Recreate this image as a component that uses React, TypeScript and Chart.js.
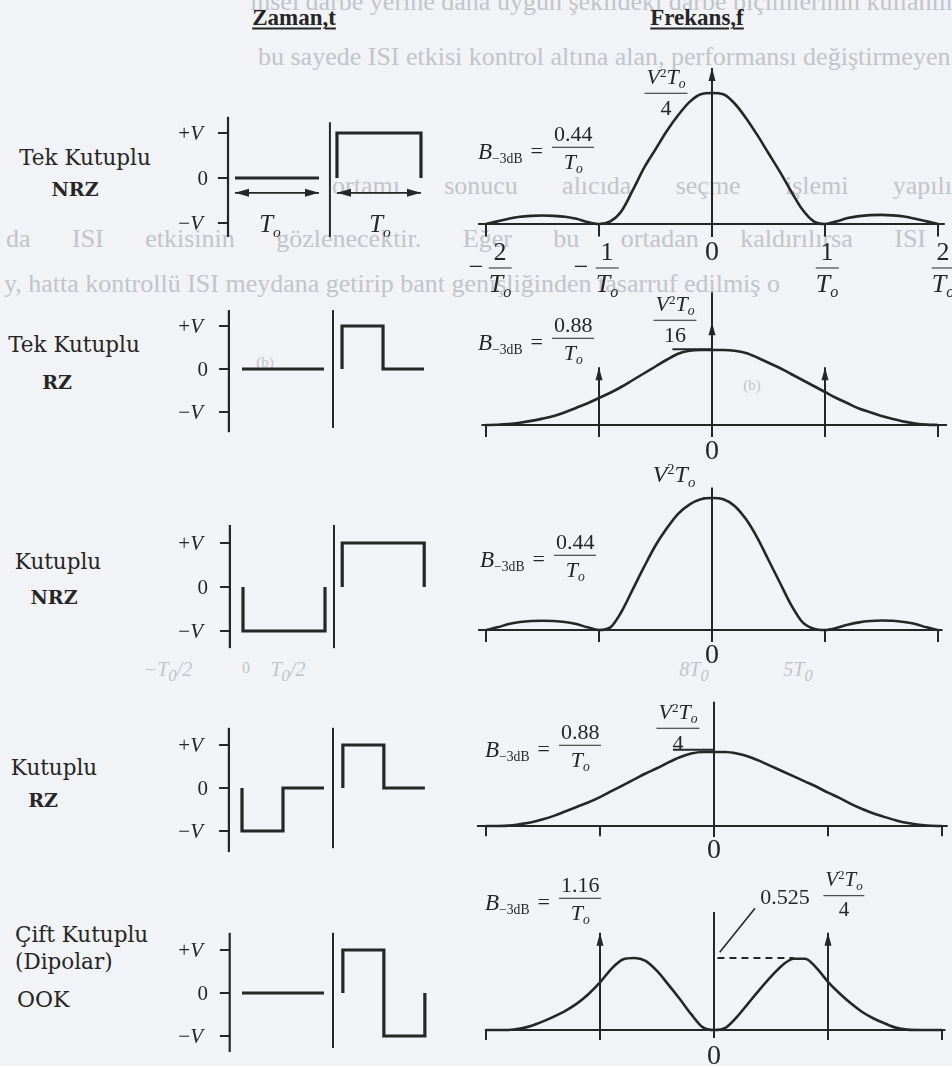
import React, { useEffect, useRef } from 'react';
import { Chart, registerables } from 'chart.js';

Chart.register(...registerables);

/* ---------- frequency grid, in units of 1/To ---------- */
const freqGrid = [
  -2.0, -1.9, -1.8, -1.7, -1.6, -1.5, -1.4, -1.3, -1.2, -1.1,
  -1.0, -0.9, -0.8, -0.7, -0.6, -0.5, -0.4, -0.3, -0.2, -0.1,
  0.0, 0.1, 0.2, 0.3, 0.4, 0.5, 0.6, 0.7, 0.8, 0.9,
  1.0, 1.1, 1.2, 1.3, 1.4, 1.5, 1.6, 1.7, 1.8, 1.9, 2.0,
];

/* ---------- power spectral densities, normalised to each main peak ---------- */
const psdUnipolarNrz = [
  0.0, 0.02, 0.04, 0.055, 0.062, 0.065, 0.062, 0.055, 0.04, 0.015,
  0.0, 0.02, 0.1, 0.26, 0.43, 0.57, 0.71, 0.83, 0.93, 0.99,
  1.0, 0.99, 0.92, 0.81, 0.68, 0.54, 0.4, 0.25, 0.11, 0.02,
  0.0, 0.02, 0.045, 0.06, 0.068, 0.07, 0.066, 0.057, 0.04, 0.02, 0.0,
];
const psdUnipolarRz = [
  0.0, 0.003, 0.012, 0.03, 0.055, 0.085, 0.12, 0.17, 0.23, 0.29,
  0.36, 0.43, 0.51, 0.6, 0.69, 0.78, 0.87, 0.95, 0.99, 1.0,
  1.0, 1.0, 0.99, 0.96, 0.9, 0.83, 0.76, 0.68, 0.6, 0.52,
  0.44, 0.36, 0.29, 0.22, 0.17, 0.12, 0.08, 0.045, 0.02, 0.005, 0.0,
];
const psdPolarNrz = [
  0.0, 0.02, 0.045, 0.06, 0.068, 0.07, 0.068, 0.06, 0.045, 0.02,
  0.0, 0.02, 0.14, 0.31, 0.48, 0.64, 0.77, 0.88, 0.95, 0.99,
  1.0, 0.99, 0.94, 0.84, 0.7, 0.53, 0.36, 0.19, 0.06, 0.01,
  0.0, 0.015, 0.04, 0.058, 0.068, 0.072, 0.07, 0.06, 0.045, 0.02, 0.0,
];
const psdPolarRz = [
  0.0, 0.0, 0.005, 0.025, 0.05, 0.09, 0.14, 0.2, 0.26, 0.32,
  0.39, 0.47, 0.55, 0.63, 0.71, 0.78, 0.86, 0.93, 0.98, 1.0,
  1.0, 1.0, 0.98, 0.94, 0.88, 0.81, 0.74, 0.67, 0.6, 0.53,
  0.45, 0.38, 0.3, 0.23, 0.17, 0.12, 0.075, 0.04, 0.015, 0.003, 0.0,
];
const psdDipolarOok = [
  0.0, 0.0, 0.0, 0.02, 0.06, 0.12, 0.19, 0.27, 0.37, 0.5,
  0.66, 0.85, 0.98, 1.0, 0.96, 0.82, 0.63, 0.43, 0.22, 0.04,
  0.0, 0.03, 0.18, 0.37, 0.56, 0.74, 0.9, 0.99, 0.99, 0.86,
  0.67, 0.51, 0.37, 0.25, 0.16, 0.09, 0.03, 0.005, 0.0, 0.0, 0.0,
];

/* spectral lines (impulses): frequency in 1/To, drawn height */
const linesUnipolarNrz = [{ f: 0, h: 1.19 }];
const linesUnipolarRz = [{ f: -1, h: 0.77 }, { f: 0, h: 1.37 }, { f: 1, h: 0.77 }];
const linesDipolarOok = [{ f: -1, h: 1.35 }, { f: 1, h: 1.35 }];

const freqTicks = [-2, -1, 1, 2];
const levelTicks = [1, 0, -1];
const levelLabels = ['+V', '0', '−V'];

/* ---------- one "0" bit and one "1" bit of each line code: [time / To, level / V] ---------- */
const unipolarNrzBits = [
  [[0, 0], [1, 0]],
  [[0, 0], [0, 1], [1, 1], [1, 0]],
];
const unipolarRzBits = [
  [[0, 0], [1, 0]],
  [[0, 0], [0, 1], [0.5, 1], [0.5, 0], [1, 0]],
];
const polarNrzBits = [
  [[0, 0], [0, -1], [1, -1], [1, 0]],
  [[0, 0], [0, 1], [1, 1], [1, 0]],
];
const polarRzBits = [
  [[0, 0], [0, -1], [0.5, -1], [0.5, 0], [1, 0]],
  [[0, 0], [0, 1], [0.5, 1], [0.5, 0], [1, 0]],
];
const dipolarOokBits = [
  [[0, 0], [1, 0]],
  [[0, 0], [0, 1], [0.5, 1], [0.5, -1], [1, -1], [1, 0]],
];

/* ---------- styling & layout ---------- */
const INK = '#262626';
const PAPER = '#f1f3f6';
const FAINT = '#c1c4c9';
const SERIF = '"Liberation Serif", "Times New Roman", serif';
const BOOK = '"DejaVu Serif", "Liberation Serif", serif';

// frame: pixel position of the data origin and pixels per unit
const timeFrames = [
  { x0: 235, y0: 178, px: 84, py: 45, axisAt: -0.083, sepAt: 1.13, bit1At: 1.214, axisSpan: [-1.31, 1.36], sepSpan: [-1.31, 1.24] },
  { x0: 242, y0: 369, px: 82, py: 43, axisAt: -0.16, sepAt: 1.11, bit1At: 1.22, axisSpan: [-1.47, 1.37], sepSpan: [-1.37, 1.37] },
  { x0: 243, y0: 587, px: 82, py: 44, axisAt: -0.16, sepAt: 1.11, bit1At: 1.21, axisSpan: [-1.39, 1.41], sepSpan: [-1.39, 1.41] },
  { x0: 242, y0: 788, px: 82, py: 43, axisAt: -0.16, sepAt: 1.11, bit1At: 1.23, axisSpan: [-1.49, 1.4], sepSpan: [-1.4, 1.4] },
  { x0: 242, y0: 993, px: 82, py: 43, axisAt: -0.15, sepAt: 1.11, bit1At: 1.23, axisSpan: [-1.37, 1.4], sepSpan: [-1.28, 1.4] },
];
const specFrames = [
  { x0: 712, y0: 224, px: 113, py: 131, top: 55, height: 195, base: [-2.07, 2.06], tick: 0.095, axisSpan: [-0.1, 1.19] },
  { x0: 712, y0: 425, px: 113, py: 75, top: 285, height: 160, base: [-2.04, 2.08], tick: 0.16, axisSpan: [-0.16, 1.77] },
  { x0: 712, y0: 630, px: 113, py: 132, top: 480, height: 170, base: [-2.07, 2.04], tick: 0.09, axisSpan: [-0.09, 1.08] },
  { x0: 714, y0: 826, px: 114, py: 74, top: 695, height: 150, base: [-2.08, 2.05], tick: 0.14, axisSpan: [-0.15, 1.68] },
  { x0: 714, y0: 1030, px: 114, py: 72, top: 900, height: 145, base: [-2.01, 2.03], tick: 0.14, axisSpan: [-0.11, 1.64] },
];

/* ---------- arrowheads at the ends of flagged datasets ---------- */
const arrowHeads = {
  id: 'arrowHeads',
  afterDatasetsDraw(chart: any) {
    const ctx = chart.ctx;
    chart.data.datasets.forEach((ds: any, i: number) => {
      if (!ds.arrowEnd && !ds.arrowStart) return;
      const pts = chart.getDatasetMeta(i).data;
      if (!pts || pts.length < 2) return;
      const len = ds.arrowLength ?? 13;
      const half = ds.arrowHalf ?? 4;
      const head = (tip: any, tail: any) => {
        const a = Math.atan2(tip.y - tail.y, tip.x - tail.x);
        ctx.save();
        ctx.translate(tip.x, tip.y);
        ctx.rotate(a);
        ctx.beginPath();
        ctx.moveTo(0, 0);
        ctx.lineTo(-len, -half);
        ctx.lineTo(-len, half);
        ctx.closePath();
        ctx.fillStyle = ds.borderColor;
        ctx.fill();
        ctx.restore();
      };
      if (ds.arrowEnd) head(pts[pts.length - 1], pts[pts.length - 2]);
      if (ds.arrowStart) head(pts[0], pts[1]);
    });
  },
};

type Pt = { x: number; y: number | null };

const stroke = (data: Pt[], width = 2, extra: any = {}) => ({
  data,
  borderColor: INK,
  backgroundColor: INK,
  borderWidth: width,
  pointRadius: 0,
  pointHoverRadius: 0,
  tension: 0,
  fill: false,
  clip: false,
  borderCapStyle: 'butt',
  borderJoinStyle: 'miter',
  ...extra,
});

const segments = (pairs: number[][][]): Pt[] =>
  pairs.flatMap(([a, b], i) => [
    ...(i ? [{ x: a[0], y: null }] : []),
    { x: a[0], y: a[1] },
    { x: b[0], y: b[1] },
  ]);

function timeDatasets(f: any, bits: number[][][], extra: any[] = []) {
  const [b0, b1] = bits;
  return [
    stroke([{ x: f.axisAt, y: f.axisSpan[0] }, { x: f.axisAt, y: f.axisSpan[1] }], 2.2),
    stroke(segments(levelTicks.map((v) => [[f.axisAt - 0.12, v], [f.axisAt, v]])), 2),
    stroke([{ x: f.sepAt, y: f.sepSpan[0] }, { x: f.sepAt, y: f.sepSpan[1] }], 2),
    stroke(b0.map(([t, v]) => ({ x: t, y: v })), 3.2),
    stroke(b1.map(([t, v]) => ({ x: f.bit1At + t, y: v })), 3.2),
    ...extra,
  ];
}

function spectrumDatasets(f: any, psd: number[], lines: { f: number; h: number }[] = [], extra: any[] = []) {
  return [
    stroke([{ x: f.base[0], y: 0 }, { x: f.base[1], y: 0 }], 2),
    stroke(segments(freqTicks.map((x) => [[x, 0], [x, -f.tick]])), 2),
    stroke([{ x: 0, y: f.axisSpan[0] }, { x: 0, y: f.axisSpan[1] }], 2),
    stroke(freqGrid.map((x, i) => ({ x, y: psd[i] })), 2.6, { cubicInterpolationMode: 'monotone' }),
    ...lines.map((l) =>
      stroke([{ x: l.f, y: 0 }, { x: l.f, y: l.h }], 2, { arrowEnd: true, arrowLength: 13, arrowHalf: 3.5 })
    ),
    ...extra,
  ];
}

const timeBox = (f: any) => ({ left: 200, top: f.y0 - 80, width: 245, height: 160 });
const specBox = (f: any) => ({ left: 462, top: f.top, width: 490, height: f.height });

const spanArrow = { arrowStart: true, arrowEnd: true, arrowLength: 14, arrowHalf: 4 };

const timeSets = [
  timeDatasets(timeFrames[0], unipolarNrzBits, [
    stroke([{ x: 0, y: -0.33 }, { x: 1, y: -0.33 }], 1.6, spanArrow),
    stroke([{ x: timeFrames[0].bit1At, y: -0.33 }, { x: timeFrames[0].bit1At + 1, y: -0.33 }], 1.6, spanArrow),
  ]),
  timeDatasets(timeFrames[1], unipolarRzBits),
  timeDatasets(timeFrames[2], polarNrzBits),
  timeDatasets(timeFrames[3], polarRzBits),
  timeDatasets(timeFrames[4], dipolarOokBits),
];

const specSets = [
  spectrumDatasets(specFrames[0], psdUnipolarNrz, linesUnipolarNrz),
  spectrumDatasets(specFrames[1], psdUnipolarRz, linesUnipolarRz, [
    stroke([{ x: -0.35, y: 1.01 }, { x: 0, y: 1.01 }], 2),
  ]),
  spectrumDatasets(specFrames[2], psdPolarNrz, [], [
    stroke([{ x: -0.08, y: 1.0 }, { x: 0.07, y: 1.0 }], 2),
  ]),
  spectrumDatasets(specFrames[3], psdPolarRz, [], [
    stroke([{ x: -0.36, y: 1.03 }, { x: 0, y: 1.03 }], 2),
  ]),
  spectrumDatasets(specFrames[4], psdDipolarOok, linesDipolarOok, [
    stroke([{ x: 0.03, y: 1.0 }, { x: 0.7, y: 1.0 }], 1.8, { borderDash: [7, 5] }),
    stroke([{ x: 0.05, y: 1.08 }, { x: 0.36, y: 1.69 }], 1.6),
  ]),
];

/* ---------- chart on a positioned canvas ---------- */
function Plot({ frame, box, datasets }: any) {
  const ref = useRef<HTMLCanvasElement | null>(null);
  useEffect(() => {
    const canvas = ref.current;
    if (!canvas) return;
    const chart = new Chart(canvas, {
      type: 'line',
      data: { datasets },
      options: {
        animation: false,
        responsive: false,
        maintainAspectRatio: false,
        events: [],
        layout: { padding: 0 },
        plugins: { legend: { display: false }, tooltip: { enabled: false }, title: { display: false } },
        scales: {
          x: {
            type: 'linear',
            display: false,
            bounds: 'data',
            min: (box.left - frame.x0) / frame.px,
            max: (box.left + box.width - frame.x0) / frame.px,
          },
          y: {
            type: 'linear',
            display: false,
            bounds: 'data',
            min: (frame.y0 - box.top - box.height) / frame.py,
            max: (frame.y0 - box.top) / frame.py,
          },
        },
      },
      plugins: [arrowHeads],
    } as any);
    return () => chart.destroy();
  }, [frame, box, datasets]);
  return (
    <canvas
      ref={ref}
      width={box.width}
      height={box.height}
      style={{ position: 'absolute', left: box.left, top: box.top, width: box.width, height: box.height }}
    />
  );
}

/* ---------- text helpers ---------- */
function Txt({ x, y, align = 'center', size = 20, family = SERIF, style = {}, children }: any) {
  const tx = align === 'center' ? '-50%' : align === 'right' ? '-100%' : '0';
  return (
    <div
      style={{
        position: 'absolute',
        left: x,
        top: y,
        transform: `translate(${tx}, -50%)`,
        fontSize: size,
        fontFamily: family,
        color: INK,
        whiteSpace: 'nowrap',
        lineHeight: 1,
        ...style,
      }}
    >
      {children}
    </div>
  );
}

const Sup = ({ children }: any) => (
  <span style={{ fontSize: '0.6em', verticalAlign: '0.55em', fontStyle: 'normal' }}>{children}</span>
);
const Sub = ({ children, italic = false }: any) => (
  <span style={{ fontSize: '0.62em', verticalAlign: '-0.3em', fontStyle: italic ? 'italic' : 'normal' }}>{children}</span>
);
const To = () => (
  <>
    <i>T</i>
    <Sub italic>o</Sub>
  </>
);
const V2To = () => (
  <>
    <i>V</i>
    <Sup>2</Sup>
    <To />
  </>
);

function Frac({ num, den, rule = 1.5 }: any) {
  return (
    <span
      style={{
        display: 'inline-flex',
        flexDirection: 'column',
        alignItems: 'stretch',
        verticalAlign: 'middle',
        lineHeight: 1.05,
        textAlign: 'center',
      }}
    >
      <span style={{ padding: '0 2px 2px' }}>{num}</span>
      <span style={{ borderTop: `${rule}px solid ${INK}`, paddingTop: 2 }}>{den}</span>
    </span>
  );
}

function Bandwidth({ x, y, value }: any) {
  return (
    <Txt x={x} y={y} align="left" size={22}>
      <span style={{ display: 'inline-flex', alignItems: 'center' }}>
        <span style={{ position: 'relative', top: 4 }}>
          <i style={{ fontSize: '1.05em' }}>B</i>
          <Sub>−3dB</Sub>
        </span>
        <span style={{ margin: '0 9px 0 8px', position: 'relative', top: 2 }}>=</span>
        <Frac num={value} den={<To />} />
      </span>
    </Txt>
  );
}

/* faint paragraph text of the printed page behind the figure */
const backdropText = [
  { text: 'insel darbe yerine daha uygun şekildeki darbe biçimlerinin kullanılması', x: 250, y: 2 },
  { text: 'bu sayede ISI etkisi kontrol altına alan, performansı değiştirmeyen', x: 258, y: 57 },
  { text: 'ortamı sonucu alıcıda seçme işlemi yapılı', x: 332, y: 186, width: 620 },
  { text: 'da ISI etkisinin gözlenecektir. Eğer bu ortadan kaldırılırsa ISI', x: 6, y: 239, width: 920 },
  { text: 'y, hatta kontrollü ISI meydana getirip bant genişliğinden tasarruf edilmiş o', x: 4, y: 284 },
];

const rowNames = [
  { lines: [{ t: 'Tek Kutuplu', x: 85, y: 158 }, { t: 'NRZ', x: 75, y: 189, bold: true }] },
  { lines: [{ t: 'Tek Kutuplu', x: 74, y: 345 }, { t: 'RZ', x: 57, y: 382, bold: true }] },
  { lines: [{ t: 'Kutuplu', x: 58, y: 562 }, { t: 'NRZ', x: 54, y: 597, bold: true }] },
  { lines: [{ t: 'Kutuplu', x: 54, y: 768 }, { t: 'RZ', x: 43, y: 800, bold: true }] },
];

export default function App() {
  return (
    <div
      style={{
        position: 'absolute',
        left: 0,
        top: 0,
        width: 952,
        height: 1066,
        overflow: 'hidden',
        background: PAPER,
      }}
    >
      {backdropText.map((l, i) => (
        <div
          key={i}
          style={{
            position: 'absolute',
            left: l.x,
            top: l.y - 15,
            width: l.width,
            height: 30,
            fontFamily: SERIF,
            fontSize: 26,
            lineHeight: '30px',
            color: FAINT,
            whiteSpace: l.width ? 'normal' : 'nowrap',
            textAlign: l.width ? 'justify' : 'left',
            textAlignLast: l.width ? 'justify' : 'left',
          } as any}
        >
          {l.text}
        </div>
      ))}
      <Txt x={265} y={362} size={15} style={{ color: FAINT }}>(b)</Txt>
      <Txt x={752} y={385} size={15} style={{ color: FAINT }}>(b)</Txt>
      <Txt x={168} y={672} size={20} style={{ color: FAINT, fontStyle: 'italic' }}>−T<sub>0</sub>/2</Txt>
      <Txt x={246} y={668} size={16} style={{ color: FAINT }}>0</Txt>
      <Txt x={288} y={672} size={20} style={{ color: FAINT, fontStyle: 'italic' }}>T<sub>0</sub>/2</Txt>
      <Txt x={694} y={672} size={20} style={{ color: FAINT, fontStyle: 'italic' }}>8T<sub>0</sub></Txt>
      <Txt x={798} y={672} size={20} style={{ color: FAINT, fontStyle: 'italic' }}>5T<sub>0</sub></Txt>

      {/* column headers */}
      <Txt x={294} y={17} size={23} style={{ fontWeight: 'bold', textDecoration: 'underline', textUnderlineOffset: 3, textDecorationThickness: 2 }}>
        Zaman,t
      </Txt>
      <Txt x={697} y={17} size={23} style={{ fontWeight: 'bold', textDecoration: 'underline', textUnderlineOffset: 3, textDecorationThickness: 2 }}>
        Frekans,f
      </Txt>

      {/* line-code names */}
      {rowNames.map((r, i) =>
        r.lines.map((l, j) => (
          <Txt
            key={`${i}-${j}`}
            x={l.x}
            y={l.y}
            size={l.bold ? 19 : 21.5}
            family={BOOK}
            style={{ fontWeight: l.bold ? 'bold' : 'normal' }}
          >
            {l.t}
          </Txt>
        ))
      )}
      <Txt x={15} y={935} align="left" size={21.5} family={BOOK}>Çift Kutuplu</Txt>
      <Txt x={15} y={962} align="left" size={21.5} family={BOOK}>(Dipolar)</Txt>
      <Txt x={17} y={1000} align="left" size={22} family={BOOK}>OOK</Txt>

      {/* time-domain waveforms */}
      {timeFrames.map((f, i) => (
        <Plot key={`t${i}`} frame={f} box={timeBox(f)} datasets={timeSets[i]} />
      ))}
      {timeFrames.map((f, i) =>
        levelTicks.map((v, j) => (
          <Txt key={`lv${i}-${j}`} x={v === 0 ? 208 : 203} y={f.y0 - v * f.py} align="right" size={21}>
            {levelLabels[j] === '0' ? (
              '0'
            ) : (
              <>
                {levelLabels[j][0]}
                <i>V</i>
              </>
            )}
          </Txt>
        ))
      )}
      <Txt x={270} y={225} size={25}><To /></Txt>
      <Txt x={380} y={225} size={25}><To /></Txt>

      {/* spectra */}
      {specFrames.map((f, i) => (
        <Plot key={`s${i}`} frame={f} box={specBox(f)} datasets={specSets[i]} />
      ))}

      {/* row 1 spectrum labels */}
      <Txt x={666} y={92} size={22}><Frac num={<V2To />} den="4" /></Txt>
      <Bandwidth x={478} y={149} value="0.44" />
      <Txt x={476} y={267} size={26}>−</Txt>
      <Txt x={500} y={270} size={26}><Frac num="2" den={<To />} /></Txt>
      <Txt x={581} y={267} size={26}>−</Txt>
      <Txt x={607} y={270} size={26}><Frac num="1" den={<To />} /></Txt>
      <Txt x={712} y={251} size={28}>0</Txt>
      <Txt x={827} y={270} size={26}><Frac num="1" den={<To />} /></Txt>
      <Txt x={943} y={270} size={26}><Frac num="2" den={<To />} /></Txt>

      {/* row 2 spectrum labels */}
      <Txt x={675} y={319} size={22}><Frac num={<V2To />} den="16" /></Txt>
      <Bandwidth x={478} y={340} value="0.88" />
      <Txt x={712} y={450} size={28}>0</Txt>

      {/* row 3 spectrum labels */}
      <Txt x={674} y={476} size={24}><V2To /></Txt>
      <Bandwidth x={480} y={557} value="0.44" />
      <Txt x={712} y={654} size={28}>0</Txt>

      {/* row 4 spectrum labels */}
      <Txt x={678} y={727} size={22}><Frac num={<V2To />} den="4" /></Txt>
      <Bandwidth x={485} y={747} value="0.88" />
      <Txt x={714} y={849} size={28}>0</Txt>

      {/* row 5 spectrum labels */}
      <Txt x={785} y={897} size={22}>0.525</Txt>
      <Txt x={844} y={894} size={21}><Frac num={<V2To />} den="4" /></Txt>
      <Bandwidth x={485} y={900} value="1.16" />
      <Txt x={714} y={1055} size={28}>0</Txt>
    </div>
  );
}
